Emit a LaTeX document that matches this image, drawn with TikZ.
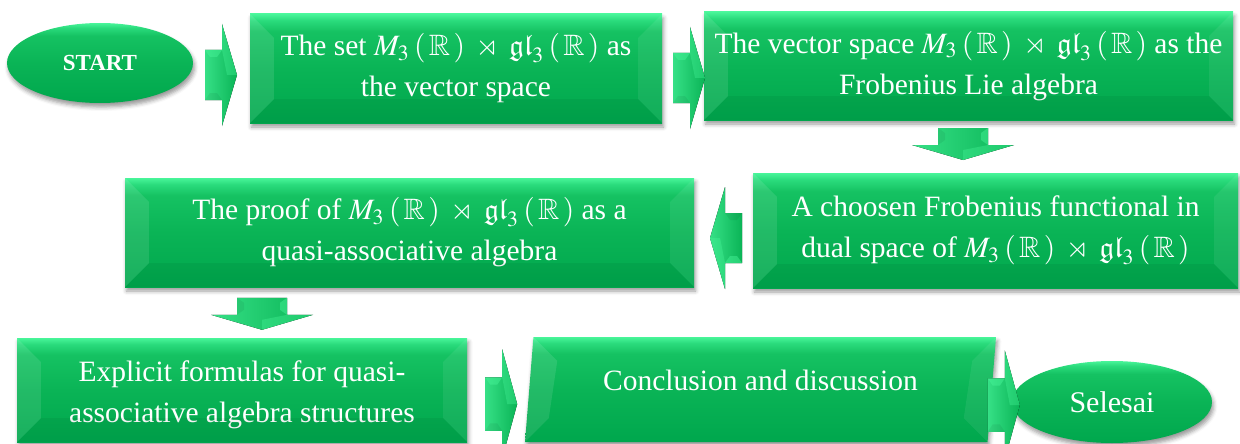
\documentclass[tikz,border=0pt]{standalone}
\usepackage{mathptmx}
\usepackage{amssymb}
\usepackage{fontspec}
\setmainfont{Liberation Serif}
\usetikzlibrary{calc,shapes.geometric,shadows.blur}

\definecolor{gLight}{HTML}{48F599}
\definecolor{gLight2}{HTML}{2ADB7C}
\definecolor{gMid2}{HTML}{15C262}
\definecolor{gMid}{HTML}{0AB456}
\definecolor{gDark}{HTML}{00A74D}
\definecolor{gArrL}{HTML}{36E086}

\pgfdeclareverticalshading{gbox}{100bp}{color(0bp)=(gDark); color(25bp)=(gDark); color(50bp)=(gMid); color(67bp)=(gMid2); color(72bp)=(gLight2); color(75bp)=(gLight); color(100bp)=(gLight)}

\newcommand\boxfont{\fontsize{29.5}{41}\selectfont}
\newcommand\startfont{\fontsize{23}{28}\selectfont\bfseries}
\newcommand\selfont{\fontsize{30}{36}\selectfont}
\newcommand\MG{$M_3\mkern3mu(\mkern2mu\mathbb{R}\mkern2mu)\mkern4mu\rtimes\mkern4mu\mathfrak{gl}_3\mkern3mu(\mkern2mu\mathbb{R}\mkern2mu)$}

\newcommand\bevelbox[2]{%
  \fill[white,opacity=.10] (#1.north west) -- ($(#1.north west)+(#2,#2)$) -- ($(#1.south west)+(#2,-#2)$) -- (#1.south west) -- cycle;
  \fill[white,opacity=.07] (#1.north east) -- ($(#1.north east)+(-#2,#2)$) -- ($(#1.south east)+(-#2,-#2)$) -- (#1.south east) -- cycle;
  \fill[black,opacity=.05] (#1.south west) -- ($(#1.south west)+(#2,-#2)$) -- ($(#1.south east)+(-#2,-#2)$) -- (#1.south east) -- cycle;
}

\tikzset{
  pics/barrow/.style={code={
    \fill[left color=gArrL, right color=gMid] (-17,-25) -- (0,-25) -- (0,-51) -- (15,0) -- (0,51) -- (0,25) -- (-17,25) -- cycle;
    \fill[gLight,opacity=.45] (-17,-25) -- (0,-25) -- (-5,-18) -- (-12,-18) -- cycle;
    \fill[gLight,opacity=.35] (0,-51) -- (15,0) -- (5,0) -- (0,-25) -- cycle;
    \fill[black,opacity=.06] (-17,25) -- (0,25) -- (-5,18) -- (-12,18) -- cycle;
  }},
  shade/.style={blur shadow={shadow xshift=1.5pt, shadow yshift=-4pt, shadow blur radius=4pt, shadow opacity=40}},
  box/.style={rectangle, inner sep=0pt, shading=gbox, text=white, align=center, font=\boxfont, shade},
  oval/.style={ellipse, inner sep=0pt, shading=gbox, text=white, shade},
  para/.style={trapezium, trapezium left angle=77.6, trapezium right angle=102.4, trapezium stretches body, inner sep=0pt, shading=gbox, text=white, font=\boxfont, shade}
}

\begin{document}
\begin{tikzpicture}[x=1pt,y=-1pt]
\useasboundingbox (0,0) rectangle (1240,444);
\clip (0,0) rectangle (1240,444);

\node[oval, minimum width=186, minimum height=80, font=\startfont] (start) at (100,63) {START};
\node[box, minimum width=412, minimum height=109] (b1) at (456,68.5) {The set \MG{} as\\the vector space};
\node[box, minimum width=529, minimum height=108] (b2) at (968.5,66) {The vector space \MG{} as the\\Frobenius Lie algebra};
\node[box, minimum width=485, minimum height=115] (b3) at (995.5,230.5) {A choosen Frobenius functional in\\dual space of \MG};
\node[box, minimum width=569, minimum height=109] (b4) at (409.5,232.5) {The proof of \MG{} as a\\quasi-associative algebra};
\node[box, minimum width=450, minimum height=104] (b5) at (242,390) {\rule{0pt}{30pt}Explicit formulas for quasi-\\associative algebra structures};
\node[para, minimum width=471, minimum height=105, text depth=18pt] (concl) at (760.5,389.5) {Conclusion and discussion};
\node[oval, minimum width=200, minimum height=82, font=\selfont] (end) at (1112,402) {Selesai};

\bevelbox{b1}{24}
\bevelbox{b2}{24}
\bevelbox{b3}{24}
\bevelbox{b4}{24}
\bevelbox{b5}{24}
\fill[white,opacity=.10] (concl.top left corner) -- ($(concl.top left corner)+(24,24)$) -- ($(concl.bottom left corner)+(24,-24)$) -- (concl.bottom left corner) -- cycle;
\fill[white,opacity=.07] (concl.top right corner) -- ($(concl.top right corner)+(-24,24)$) -- ($(concl.bottom right corner)+(-24,-24)$) -- (concl.bottom right corner) -- cycle;

\pic at ($(start.east)!0.5!(b1.west)+(0.5,9.25)$) {barrow};
\pic at ($(b1.east)!0.5!(b2.west)+(7,10.75)$) {barrow};
\pic[rotate=-90] at ($(b2.south)!0.5!(b3.north)+(-19,-1.5)$) {barrow};
\pic[rotate=180] at ($(b3.west)!0.5!(b4.east)+(1.5,6.5)$) {barrow};
\pic[rotate=-90] at ($(b5.north)+(20,-23)$) {barrow};
\pic[yscale=1.07] at ($(b5.east)+(35,14)$) {barrow};
\pic[yscale=1.07] at ($(end.west)+(-7,3)$) {barrow};
\end{tikzpicture}
\end{document}
